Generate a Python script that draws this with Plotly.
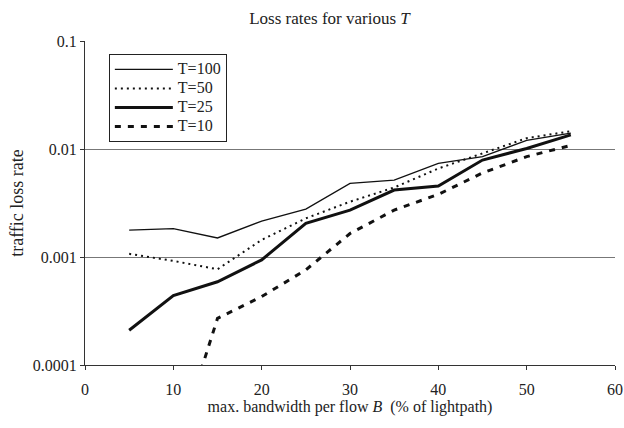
import plotly.graph_objects as go

x_vals = [5, 10, 15, 20, 25, 30, 35, 40, 45, 50, 55]
t100 = [0.00177, 0.00183, 0.00150, 0.00215, 0.00278, 0.00481, 0.00516, 0.00735, 0.0085, 0.0120, 0.0140]
t50 = [0.00107, 0.00092, 0.00077, 0.00144, 0.00228, 0.00325, 0.00440, 0.00660, 0.0091, 0.0126, 0.0146]
t25 = [0.00021, 0.00044, 0.00059, 0.00094, 0.00205, 0.00272, 0.00417, 0.00454, 0.0079, 0.0101, 0.0135]
t10 = [None, 0.000014, 0.00027, 0.00043, 0.00076, 0.00165, 0.00272, 0.00380, 0.0060, 0.0085, 0.0108]

series_names = ["T=100", "T=50", "T=25", "T=10"]
y_tickvals = [0.0001, 0.001, 0.01, 0.1]
y_ticktext = ["0.0001", "0.001", "0.01", "0.1"]

FONT = "Liberation Serif, Times New Roman, serif"


def lg(name):
    return "<span style='font-size:16px'>" + name + "</span>"


fig = go.Figure()
fig.add_trace(go.Scatter(x=x_vals, y=t100, mode="lines", name=lg(series_names[0]),
                         line=dict(color="#111", width=1.3)))
fig.add_trace(go.Scatter(x=x_vals, y=t50, mode="lines", name=lg(series_names[1]),
                         line=dict(color="#111", width=2, dash="2px,4px")))
fig.add_trace(go.Scatter(x=x_vals, y=t25, mode="lines", name=lg(series_names[2]),
                         line=dict(color="#111", width=3)))
fig.add_trace(go.Scatter(x=x_vals, y=t10, mode="lines", name=lg(series_names[3]),
                         line=dict(color="#111", width=3, dash="6px,7px")))

fig.update_layout(
    width=624, height=428,
    margin=dict(l=85, r=9, t=41, b=63),
    paper_bgcolor="white", plot_bgcolor="white",
    font=dict(family=FONT, size=16, color="#222"),
    title=dict(text="Loss rates for various <i>T</i>", x=0.528, xanchor="center",
               y=0.958, yanchor="middle", font=dict(family=FONT, size=17, color="#222")),
    showlegend=True,
    legend=dict(x=0.045, y=0.96, xanchor="left", yanchor="top",
                bordercolor="#222", borderwidth=1, bgcolor="white",
                itemwidth=58, font=dict(family=FONT, size=12.3, color="#222"),
                tracegroupgap=0),
    xaxis=dict(range=[0, 60], dtick=10, tick0=0, showgrid=False, zeroline=False,
               showline=True, linecolor="#333", linewidth=1, automargin=False,
               ticks="outside", ticklen=4, tickcolor="#333", ticklabelstandoff=6,
               tickfont=dict(family=FONT, size=16),
               title=dict(text="max. bandwidth per flow <i>B</i>  (% of lightpath)",
                          standoff=2, font=dict(family=FONT, size=16))),
    yaxis=dict(type="log", range=[-4, -1], tickvals=y_tickvals, ticktext=y_ticktext,
               showgrid=True, gridcolor="#777", gridwidth=1, zeroline=False,
               showline=True, linecolor="#333", linewidth=1, automargin=False,
               ticks="outside", ticklen=4, tickcolor="#333",
               tickfont=dict(family=FONT, size=16),
               title=dict(text="traffic loss rate", standoff=4,
                          font=dict(family=FONT, size=18))),
)

fig.write_html(
    "out.html",
    config={"displayModeBar": False},
    post_script="document.body.style.margin='0';"
                "document.documentElement.style.overflow='hidden';"
                "document.body.style.overflow='hidden';",
)
